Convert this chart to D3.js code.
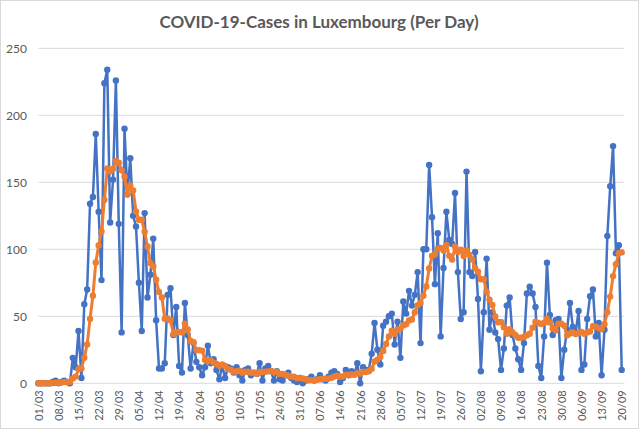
<!DOCTYPE html>
<html>
<head>
<meta charset="utf-8">
<script src="https://cdn.jsdelivr.net/npm/d3@7"></script>
<style>
  html, body { margin: 0; padding: 0; background: #fff; }
  svg { display: block; }
</style>
</head>
<body>
<svg id="chart" width="639" height="429"></svg>
<script>
// ---- data ----
const title = "COVID-19-Cases in Luxembourg (Per Day)";
const startDate = "2020-03-01";
const endDate = "2020-09-20";
const tickLabels = ["01/03","08/03","15/03","22/03","29/03","05/04","12/04","19/04","26/04","03/05",
  "10/05","17/05","24/05","31/05","07/06","14/06","21/06","28/06","05/07","12/07",
  "19/07","26/07","02/08","09/08","16/08","23/08","30/08","06/09","13/09","20/09"];
const yTicks = [0, 50, 100, 150, 200, 250];

// new cases per day (blue)
const dailyCases = [
  0,0,0,0,0,1,2,0,1,2,1,0,19,12,39,4,59,70,134,139,
  186,128,77,224,234,120,152,226,119,38,190,141,168,125,117,75,39,127,64,81,
  108,47,11,11,15,66,71,36,57,13,8,60,36,11,30,16,12,6,12,28,
  15,18,10,3,13,4,12,11,8,12,6,2,10,11,6,8,7,15,2,11,
  13,9,2,9,3,2,6,8,4,2,1,4,0,2,3,5,2,3,6,3,
  2,5,8,9,7,1,4,10,6,9,7,15,0,12,10,10,22,45,25,14,
  43,46,50,52,29,46,19,61,52,69,58,66,83,30,100,100,163,124,74,112,
  35,86,128,107,104,142,83,48,53,158,83,80,98,63,9,53,93,40,53,38,
  33,10,26,58,64,36,26,18,10,30,67,72,67,57,13,4,35,90,51,36,
  47,48,4,25,40,60,42,38,54,10,14,48,65,70,35,45,6,40,110,147,
  177,97,103,10
];

// 7-day average as drawn (orange)
const weeklyAverage = [
  0,0,0,0,0,0.1,0.4,0.4,0.6,0.9,1.0,1.0,3.6,5.0,10.6,11.0,19.1,29.0,48.1,65.3,
  90.1,102.9,113.3,136.9,160.3,158.3,160.1,165.9,164.6,159.0,154.1,140.9,147.7,143.9,128.3,122.0,122.1,113.1,102.1,89.7,
  87.3,77.3,68.1,64.1,48.1,48.4,47.0,36.7,38.1,38.4,38.0,44.4,40.1,31.6,30.7,24.9,24.7,24.4,17.6,16.4,
  17.0,15.3,14.4,13.1,14.1,13.0,10.7,10.1,8.7,9.0,9.4,7.9,8.7,8.6,7.9,7.9,7.1,8.4,8.4,8.6,
  8.9,9.3,8.4,8.7,7.0,7.0,6.3,5.6,4.9,4.9,3.7,3.9,3.6,3.0,2.3,2.4,2.4,2.7,3.0,3.4,
  3.4,3.7,4.1,5.1,5.7,5.0,5.1,6.3,6.4,6.6,6.3,7.4,7.3,8.4,8.4,9.0,10.9,16.3,17.7,19.7,
  24.1,29.3,35.0,39.3,37.0,40.0,40.7,43.3,44.1,46.9,47.7,53.0,58.3,59.9,65.4,72.3,85.7,95.1,96.3,100.4,
  101.1,99.1,103.1,95.1,92.3,102.0,97.9,99.7,95.0,99.3,95.9,92.4,86.1,83.3,77.7,77.7,68.4,62.3,58.4,49.9,
  45.6,45.7,41.9,36.9,40.3,37.9,36.1,34.0,34.0,34.6,35.9,37.0,41.4,45.9,45.1,44.3,45.0,48.3,45.3,40.9,
  39.4,44.4,44.4,43.0,35.9,37.1,38.0,36.7,37.6,38.4,36.9,38.0,38.7,42.7,42.3,41.0,40.4,44.1,53.0,64.7,
  80.0,88.9,97.1,97.7
];

// ---- chart ----
const svg = d3.select("#chart");
const W = 639, H = 429;
const plot = { left: 38.3, right: 621.7, gridRight: 624, top: 48.3, bottom: 383.3 };

const parse = d3.timeParse("%Y-%m-%d");
const days = d3.timeDay.range(parse(startDate), d3.timeDay.offset(parse(endDate), 1));
const parseLabel = d3.timeParse("%d/%m/%Y");

const x = d3.scaleTime()
  .domain([days[0], days[days.length - 1]])
  .range([plot.left, plot.right]);
const y = d3.scaleLinear().domain([0, 250]).range([plot.bottom, plot.top]);

// border
svg.append("rect").attr("x", 0.5).attr("y", 0.5).attr("width", W - 1).attr("height", H - 1)
  .attr("fill", "#fff").attr("stroke", "#d9d9d9");

// title
svg.append("text")
  .attr("x", 319).attr("y", 28)
  .attr("text-anchor", "middle")
  .attr("font-family", "Lato, 'Open Sans', sans-serif")
  .attr("font-weight", "bold")
  .attr("font-size", 17)
  .attr("fill", "#595959")
  .text(title);

// gridlines
svg.append("g").selectAll("line").data(yTicks).join("line")
  .attr("x1", plot.left).attr("x2", plot.gridRight)
  .attr("y1", d => y(d)).attr("y2", d => y(d))
  .attr("stroke", "#d9d9d9").attr("stroke-width", 1);

// y axis labels
const yAxis = d3.axisLeft(y).tickValues(yTicks).tickSize(0).tickPadding(0);
const gy = svg.append("g").attr("transform", `translate(27,0)`).call(yAxis);
gy.select(".domain").remove();
gy.selectAll("text")
  .attr("font-family", "Lato, 'Open Sans', sans-serif")
  .attr("font-size", 12)
  .attr("fill", "#595959");

// x axis labels
const tickDates = tickLabels.map(l => parseLabel(l + "/2020"));
const xAxis = d3.axisBottom(x).tickValues(tickDates).tickFormat(d3.timeFormat("%d/%m")).tickSize(0).tickPadding(0);
const gx = svg.append("g").attr("transform", `translate(0,${plot.bottom})`).call(xAxis);
gx.select(".domain").remove();
gx.selectAll("text")
  .attr("font-family", "Lato, 'Open Sans', sans-serif")
  .attr("font-size", 11)
  .attr("fill", "#595959")
  .attr("text-anchor", "end")
  .attr("transform", "rotate(-90)")
  .attr("x", -7)
  .attr("y", 0)
  .attr("dy", "0.35em");

// series
const series = [
  { values: dailyCases, color: "#4472C4", width: 2.5, r: 3.2 },
  { values: weeklyAverage, color: "#ED7D31", width: 3, r: 3.2 }
];

const line = d3.line().x((d, i) => x(days[i])).y(d => y(d));

series.forEach(s => {
  const g = svg.append("g");
  g.append("path")
    .datum(s.values)
    .attr("fill", "none")
    .attr("stroke", s.color)
    .attr("stroke-width", s.width)
    .attr("stroke-linejoin", "round")
    .attr("d", line);
  g.selectAll("circle").data(s.values).join("circle")
    .attr("cx", (d, i) => x(days[i]))
    .attr("cy", d => y(d))
    .attr("r", s.r)
    .attr("fill", s.color);
});
</script>
</body>
</html>
